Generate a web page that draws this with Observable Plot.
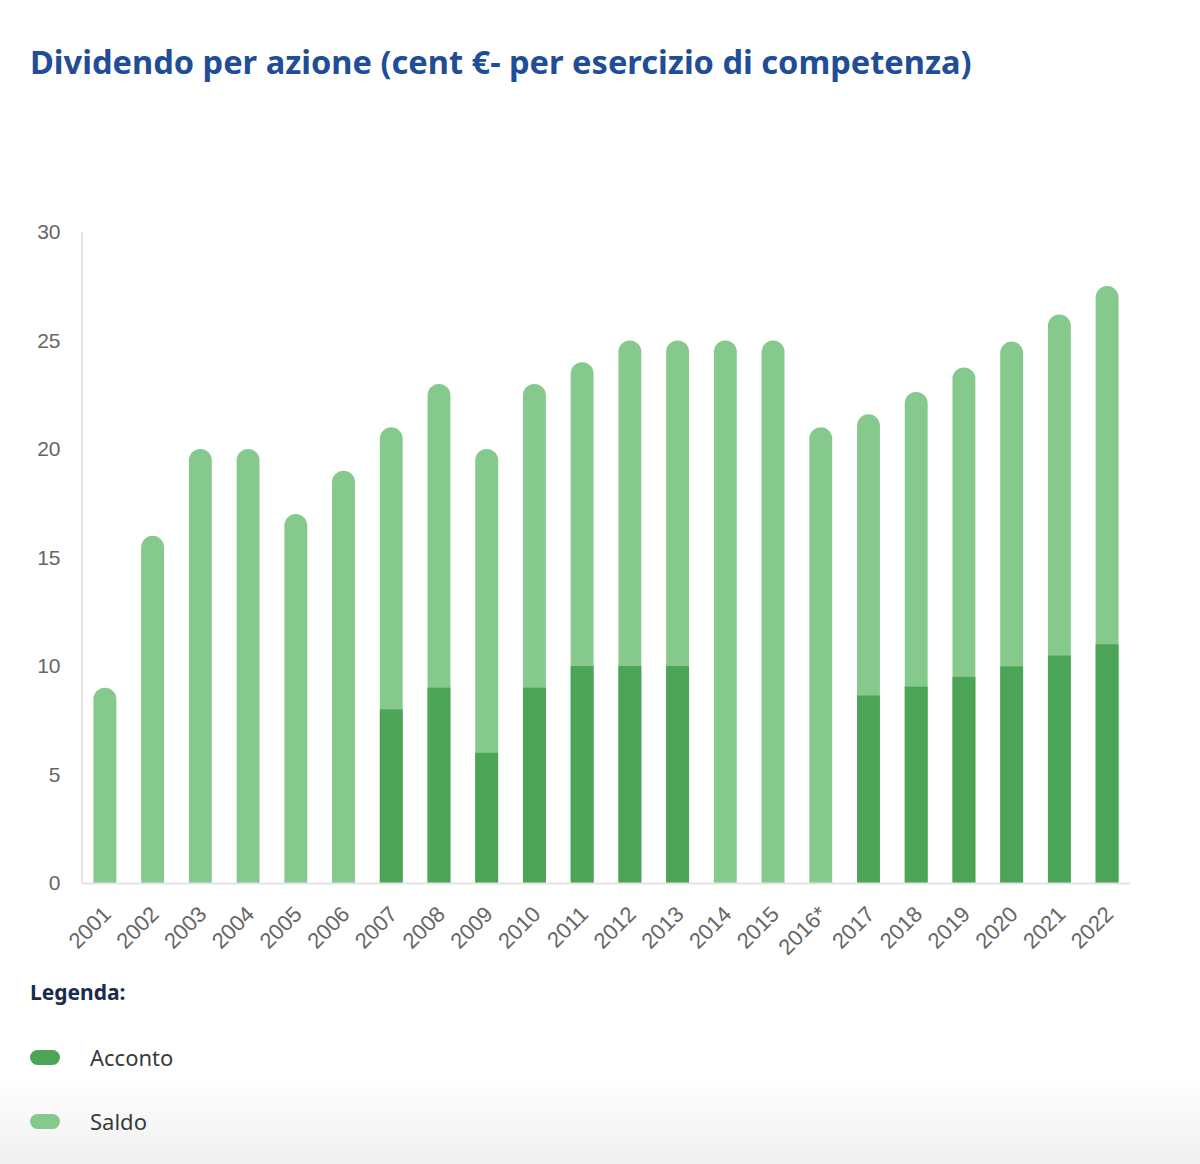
<!DOCTYPE html>
<html>
<head>
<meta charset="utf-8">
<script src="https://cdn.jsdelivr.net/npm/d3@7"></script>
<script src="https://cdn.jsdelivr.net/npm/@observablehq/plot@0.6"></script>
<style>
  html, body { margin: 0; padding: 0; }
  body {
    width: 1200px; height: 1164px; position: relative; overflow: hidden;
    background: linear-gradient(to bottom, #ffffff 0px, #ffffff 1075px, #f0f0f0 1164px);
    font-family: "Liberation Sans", Arial, sans-serif;
  }
  #title {
    position: absolute; left: 30px; top: 39px; margin: 0;
    font-family: "Noto Sans", "Open Sans", sans-serif; font-weight: 700;
    font-size: 32.6px; color: #1f4d96; letter-spacing: 0px; white-space: nowrap;
  }
  #chart { position: absolute; left: 0; top: 180px; }
  #legend-title {
    position: absolute; left: 30px; top: 978px;
    font-family: "Noto Sans", "Open Sans", sans-serif; font-weight: 700;
    font-size: 21px; color: #1b2b4b;
  }
  .item { position: absolute; left: 30px; display: flex; align-items: center; }
  .sw { width: 30px; height: 15px; border-radius: 8px; }
  .lbl { margin-left: 30px; font-family: "Noto Sans", "Open Sans", sans-serif; font-size: 22px; color: #3a3a3a; }
</style>
</head>
<body>
<div id="title">Dividendo per azione (cent €- per esercizio di competenza)</div>
<div id="chart"></div>
<div id="legend-title">Legenda:</div>
<div class="item" style="top:1042px"><div class="sw" style="background:#4ca557"></div><div class="lbl">Acconto</div></div>
<div class="item" style="top:1106px"><div class="sw" style="background:#86c98d"></div><div class="lbl">Saldo</div></div>
<script>
const years = ["2001","2002","2003","2004","2005","2006","2007","2008","2009","2010","2011","2012","2013","2014","2015","2016*","2017","2018","2019","2020","2021","2022"];
const acconto = [0,0,0,0,0,0,8,9,6,9,10,10,10,0,0,0,8.64,9.05,9.5,9.98,10.48,11.0];
const saldo = [9,16,20,20,17,19,13,14,14,14,14,15,15,25,25,21,12.96,13.58,14.26,14.97,15.72,16.51];
const yTicks = [0,5,10,15,20,25,30];

const colAcconto = "#4ca557";
const colSaldo = "#86c98d";

const rows = years.map((y, i) => ({year: y, acconto: acconto[i], saldo: saldo[i], total: acconto[i] + saldo[i]}));

const chart = Plot.plot({
  width: 1200,
  height: 800,
  marginLeft: 82,
  marginRight: 70,
  marginTop: 52,
  marginBottom: 97,
  style: {fontFamily: "'Liberation Sans', Arial, sans-serif", background: "transparent"},
  x: {domain: years, paddingInner: 0.52, paddingOuter: 0.24, round: false, label: null},
  y: {domain: [0, 30], label: null},
  marks: [
    Plot.axisY({ticks: yTicks, tickSize: 0, tickPadding: 22, fontSize: 21, color: "#666", label: null}),
    Plot.axisX({tickSize: 0, tickRotate: -45, tickPadding: 27, dx: 2, fontSize: 22, color: "#666", label: null}),
    Plot.barY(rows, {x: "year", y1: 0, y2: "total", fill: colSaldo, rx: 11.5, insetBottom: -14, clip: true}),
    Plot.barY(rows.filter(d => d.acconto > 0), {x: "year", y1: 0, y2: "acconto", fill: colAcconto}),
    Plot.ruleY([0], {stroke: "#e3e3e3", strokeWidth: 2})
  ]
});
document.getElementById("chart").appendChild(chart);
d3.select(chart).append("line").attr("x1", 82).attr("x2", 82).attr("y1", 52).attr("y2", 703)
  .attr("stroke", "#e3e3e3").attr("stroke-width", 2);
</script>
</body>
</html>
